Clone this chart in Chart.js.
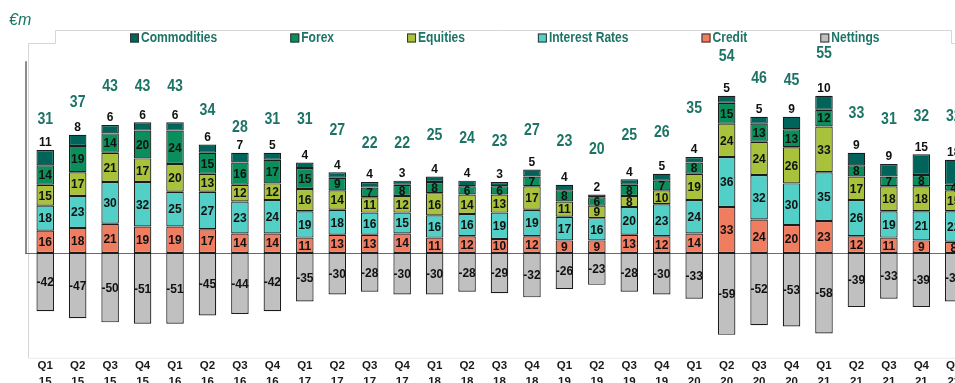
<!DOCTYPE html>
<html>
<head>
<meta charset="utf-8">
<title>Trading revenue by asset class</title>
<script src="https://cdn.jsdelivr.net/npm/chart.js@4.4.0/dist/chart.umd.min.js"></script>
<style>
  html, body { margin: 0; padding: 0; overflow: hidden; background: #fff; }
  #wrap { position: relative; width: 980px; height: 400px; }
</style>
</head>
<body>
<div id="wrap"><canvas id="revChart"></canvas></div>
<script>
// quarterly figures, €m
var quarters = ['Q1 15','Q2 15','Q3 15','Q4 15','Q1 16','Q2 16','Q3 16','Q4 16',
                'Q1 17','Q2 17','Q3 17','Q4 17','Q1 18','Q2 18','Q3 18','Q4 18',
                'Q1 19','Q2 19','Q3 19','Q4 19','Q1 20','Q2 20','Q3 20','Q4 20',
                'Q1 21','Q2 21','Q3 21','Q4 21','Q1 22'];
var credit        = [16,18,21,19,19,17,14,14,11,13,13,14,11,12,10,12,9,9,13,12,14,33,24,20,23,12,11,9,8];
var interestRates = [18,23,30,32,25,27,23,24,19,18,16,15,16,16,19,19,17,16,20,23,24,36,32,30,35,26,19,21,22];
var equities      = [15,17,21,17,20,13,12,12,16,14,11,12,16,14,13,17,11,9,8,10,19,24,24,26,33,17,18,18,15];
var forex         = [14,19,14,20,24,15,16,17,15,9,7,8,8,6,6,7,8,6,8,7,8,15,13,13,12,8,7,8,4];
var commodities   = [11,8,6,6,6,6,7,5,4,4,4,3,4,4,3,5,4,2,4,5,4,5,5,9,10,9,9,15,18];
var nettings      = [-42,-47,-50,-51,-51,-45,-44,-42,-35,-30,-28,-30,-30,-28,-29,-32,-26,-23,-28,-30,-33,-59,-52,-53,-58,-39,-33,-39,-35];
var netTotals     = [31,37,43,43,43,34,28,31,31,27,22,22,25,24,23,27,23,20,25,26,35,54,46,45,55,33,31,32,32];

var TEAL = '#1d7466';
var SANS = '"Liberation Sans", Arial, sans-serif';

function barSet(label, data, color) {
  return {
    label: label,
    data: data,
    backgroundColor: color,
    borderColor: '#1c1c1c',
    borderWidth: 1.2,
    borderSkipped: false,
    stack: 'rev',
    barPercentage: 0.54,
    categoryPercentage: 1.0
  };
}

// text squeezed horizontally (no narrow face installed)
function narrowText(ctx, text, x, y, sx) {
  ctx.save();
  ctx.translate(x, y);
  ctx.scale(sx, 1);
  ctx.fillText(text, 0, 0);
  ctx.restore();
}

// frame lines, zero line and the unit caption
var framePlugin = {
  id: 'frame',
  beforeDatasetsDraw: function (chart) {
    var ctx = chart.ctx, a = chart.chartArea;
    var zeroY = chart.scales.y.getPixelForValue(0);
    ctx.save();
    ctx.strokeStyle = '#d6d6d6';
    ctx.lineWidth = 1;
    ctx.beginPath();
    ctx.moveTo(a.left - 0.5, a.bottom);
    ctx.lineTo(a.left - 0.5, a.top + 13.5);
    ctx.lineTo(a.left + 26.5, a.top + 13.5);
    ctx.lineTo(a.left + 26.5, a.top + 0.5);
    ctx.lineTo(951.5, a.top + 0.5);
    ctx.lineTo(951.5, a.top + 13.5);
    ctx.lineTo(chart.width, a.top + 13.5);
    ctx.stroke();

    ctx.setLineDash([1, 1]);
    ctx.beginPath();
    ctx.moveTo(a.left - 0.5, a.bottom + 0.5);
    ctx.lineTo(chart.width, a.bottom + 0.5);
    ctx.stroke();
    ctx.setLineDash([]);

    ctx.strokeStyle = '#8a8a8a';
    ctx.lineWidth = 2;
    ctx.beginPath();
    ctx.moveTo(a.left - 3, chart.scales.y.getPixelForValue(138));
    ctx.lineTo(a.left - 3, zeroY);
    ctx.stroke();

    ctx.strokeStyle = '#6a6a6a';
    ctx.lineWidth = 1;
    ctx.beginPath();
    ctx.moveTo(a.left - 4, Math.round(zeroY) + 0.5);
    ctx.lineTo(chart.width, Math.round(zeroY) + 0.5);
    ctx.stroke();

    ctx.fillStyle = TEAL;
    ctx.font = 'italic 16px ' + SANS;
    ctx.textBaseline = 'middle';
    ctx.textAlign = 'left';
    ctx.fillText('€m', 9, 21);
    ctx.restore();
  }
};

// segment values, commodities above the bar, net totals from the hidden line
var labelPlugin = {
  id: 'segmentLabels',
  afterDatasetsDraw: function (chart) {
    var ctx = chart.ctx;
    ctx.save();
    ctx.textAlign = 'center';
    chart.data.datasets.forEach(function (ds, i) {
      var meta = chart.getDatasetMeta(i);
      meta.data.forEach(function (el, j) {
        var v = ds.data[j];
        if (ds.type === 'line') {
          ctx.fillStyle = TEAL;
          ctx.font = 'bold 17px ' + SANS;
          ctx.textBaseline = 'middle';
          narrowText(ctx, String(v), el.x, el.y, 0.83);
        } else if (ds.label === 'Commodities') {
          ctx.fillStyle = '#111';
          ctx.font = 'bold 12px ' + SANS;
          ctx.textBaseline = 'bottom';
          ctx.fillText(String(v), el.x, el.y - 1);
        } else {
          ctx.fillStyle = '#111';
          ctx.font = 'bold 12px ' + SANS;
          ctx.textBaseline = 'middle';
          ctx.fillText(String(v), el.x, (el.y + el.base) / 2 + 1);
        }
      });
    });
    ctx.restore();
  }
};

// legend row along the top of the frame
var legendPlugin = {
  id: 'topLegend',
  afterDraw: function (chart) {
    var ctx = chart.ctx;
    var order = ['Commodities', 'Forex', 'Equities', 'Interest Rates', 'Credit', 'Nettings'];
    var sx = 0.86, x = 130, y = 38;
    ctx.save();
    ctx.font = 'bold 14px ' + SANS;
    ctx.textBaseline = 'middle';
    ctx.textAlign = 'left';
    order.forEach(function (name) {
      var ds = chart.data.datasets.find(function (d) { return d.label === name; });
      ctx.fillStyle = ds.backgroundColor;
      ctx.fillRect(x, y - 4.5, 9, 9);
      ctx.strokeStyle = '#333';
      ctx.lineWidth = 1;
      ctx.strokeRect(x + 0.5, y - 4, 8, 8);
      ctx.fillStyle = TEAL;
      narrowText(ctx, name, x + 11, y, sx);
      x += 11 + ctx.measureText(name).width * sx + 73;
    });
    ctx.restore();
  }
};

var chart = new Chart(document.getElementById('revChart'), {
  type: 'bar',
  data: {
    labels: quarters.map(function (q) { return q.split(' '); }),
    datasets: [
      barSet('Credit', credit, '#f07d60'),
      barSet('Interest Rates', interestRates, '#52cfc6'),
      barSet('Equities', equities, '#a8c23c'),
      barSet('Forex', forex, '#0a8e5c'),
      barSet('Commodities', commodities, '#00645a'),
      barSet('Nettings', nettings, '#c0c0c0'),
      {
        type: 'line',
        label: 'Net total',
        data: netTotals,
        yAxisID: 'yNet',
        showLine: false,
        pointRadius: 0,
        pointHoverRadius: 0
      }
    ]
  },
  options: {
    responsive: true,
    maintainAspectRatio: false,
    animation: false,
    layout: { padding: { left: 29, right: 10, top: 30, bottom: 10 } },
    plugins: {
      legend: { display: false },
      tooltip: { enabled: false }
    },
    scales: {
      x: {
        stacked: true,
        grid: { display: false, drawTicks: false },
        border: { display: false },
        ticks: {
          autoSkip: false,
          maxRotation: 0,
          padding: 0,
          color: '#1a1a1a',
          font: { family: SANS, size: 11.5, weight: 'bold', lineHeight: 1.4 }
        }
      },
      y: {
        stacked: true,
        display: false,
        min: -75.5,
        max: 160.4
      },
      yNet: {
        display: false,
        min: -56.2,
        max: 63.5
      }
    }
  },
  plugins: [framePlugin, labelPlugin, legendPlugin]
});
</script>
</body>
</html>
